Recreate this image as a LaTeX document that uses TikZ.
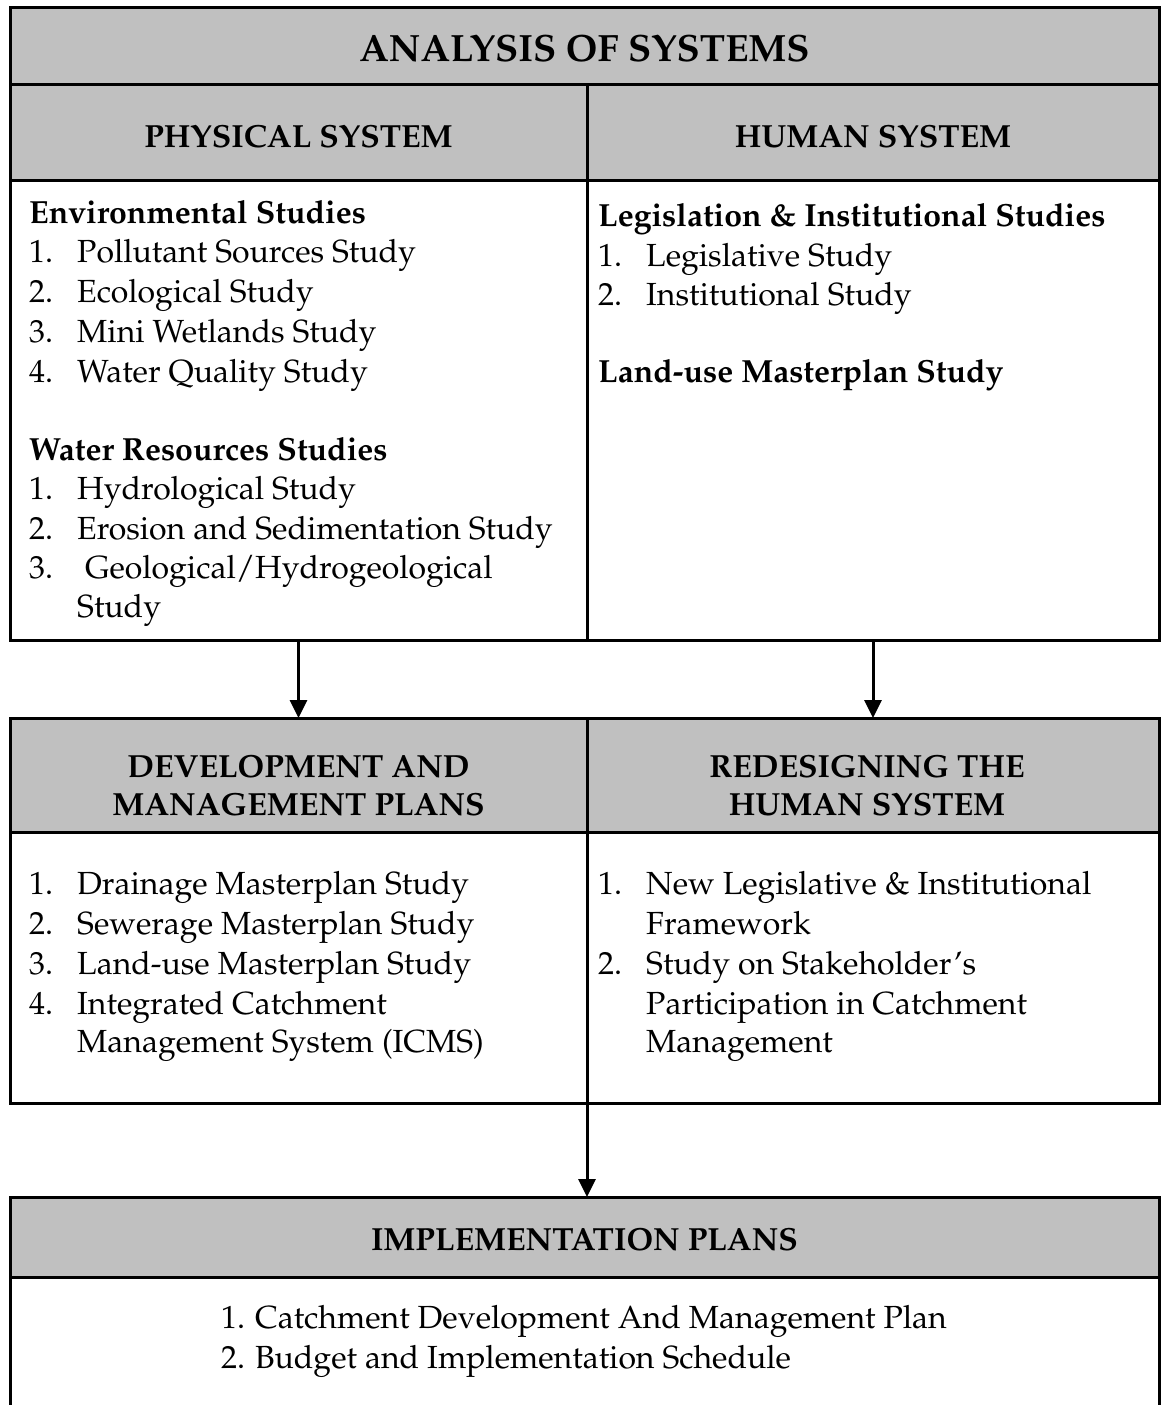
\documentclass[tikz,border=0pt]{standalone}
\usepackage[T1]{fontenc}
\renewcommand{\rmdefault}{ppl}
\usetikzlibrary{arrows.meta}
\definecolor{hdrgray}{RGB}{192,192,192}
\newcommand{\num}[1]{\makebox[48pt][l]{#1}}
\tikzset{
  cellbox/.style={draw=black, line width=3pt, rectangle, inner sep=0pt, outer sep=0pt, anchor=north west},
  hdrcell/.style={cellbox, fill=hdrgray},
  ttltext/.style={font=\fontsize{38}{44}\selectfont\bfseries, anchor=base, inner sep=0pt},
  hdtext/.style={font=\fontsize{32}{38}\selectfont\bfseries, anchor=base, inner sep=0pt},
  boldline/.style={font=\fontsize{32}{38}\selectfont\bfseries, anchor=base west, inner sep=0pt},
  plainline/.style={font=\fontsize{32}{38}\selectfont, anchor=base west, inner sep=0pt},
  arr/.style={line width=3pt, -{Triangle[length=18pt,width=17pt]}},
}
\begin{document}
\begin{tikzpicture}[x=1pt,y=-1pt]
\clip (0,0) rectangle (1161,1405);
\fill[white] (0,0) rectangle (1161,1405);
% cells
\node[hdrcell, minimum width=1149pt, minimum height=76pt] (title) at (10,8) {};
\node[hdrcell, minimum width=577pt, minimum height=96pt] (physh) at (10,84) {};
\node[hdrcell, minimum width=572pt, minimum height=96pt] (humh) at (587,84) {};
\node[cellbox, minimum width=577pt, minimum height=460pt] (physb) at (10,180) {};
\node[cellbox, minimum width=572pt, minimum height=460pt] (humb) at (587,180) {};
\node[hdrcell, minimum width=577pt, minimum height=114pt] (devh) at (10,718) {};
\node[hdrcell, minimum width=572pt, minimum height=114pt] (redh) at (587,718) {};
\node[cellbox, minimum width=577pt, minimum height=271pt] (devb) at (10,832) {};
\node[cellbox, minimum width=572pt, minimum height=271pt] (redb) at (587,832) {};
\node[hdrcell, minimum width=1149pt, minimum height=80pt] (implh) at (10,1197) {};
\node[cellbox, minimum width=1149pt, minimum height=220pt] (implb) at (10,1277) {};
% arrows
\draw[arr] (physb.south) -- (devh.north);
\draw[arr] (humb.south) -- (redh.north);
\draw[arr] (devb.south east) -- (devb.south east |- implh.north);
% header texts
\node[ttltext] (t0) at (584.5,62) {ANALYSIS OF SYSTEMS};
\node[hdtext] (t1) at (298.5,147) {PHYSICAL SYSTEM};
\node[hdtext] (t2) at (873,147) {HUMAN SYSTEM};
\node[hdtext] (t3) at (298.5,777) {DEVELOPMENT AND};
\node[hdtext] (t4) at (298.5,815) {MANAGEMENT PLANS};
\node[hdtext] (t5) at (867,777) {REDESIGNING THE};
\node[hdtext] (t6) at (867,815) {HUMAN SYSTEM};
\node[hdtext] (t7) at (584.5,1250) {IMPLEMENTATION PLANS};
% physical body
\node[boldline] (p0) at (29,223) {Environmental Studies};
\node[plainline] (p1) at (29,262) {\num{1.}Pollutant Sources Study};
\node[plainline] (p2) at (29,302) {\num{2.}Ecological Study};
\node[plainline] (p3) at (29,342) {\num{3.}Mini Wetlands Study};
\node[plainline] (p4) at (29,382) {\num{4.}Water Quality Study};
\node[boldline] (p5) at (29,460) {Water Resources Studies};
\node[plainline] (p6) at (29,499) {\num{1.}Hydrological Study};
\node[plainline] (p7) at (29,539) {\num{2.}Erosion and Sedimentation Study};
\node[plainline] (p8) at (29,578) {\num{3.}\hspace{8pt}Geological/Hydrogeological};
\node[plainline] (p9) at (29,617) {\num{}Study};
% human body
\node[boldline] (h0) at (598,226) {Legislation \& Institutional Studies};
\node[plainline] (h1) at (598,266) {\num{1.}Legislative Study};
\node[plainline] (h2) at (598,305) {\num{2.}Institutional Study};
\node[boldline] (h3) at (598,382) {Land-use Masterplan Study};
% development body
\node[plainline] (d1) at (29,894) {\num{1.}Drainage Masterplan Study};
\node[plainline] (d2) at (29,934) {\num{2.}Sewerage Masterplan Study};
\node[plainline] (d3) at (29,974) {\num{3.}Land-use Masterplan Study};
\node[plainline] (d4) at (29,1014) {\num{4.}Integrated Catchment};
\node[plainline] (d5) at (29,1052) {\num{}Management System (ICMS)};
% redesign body
\node[plainline] (r1) at (598,894) {\num{1.}New Legislative \& Institutional};
\node[plainline] (r2) at (598,934) {\num{}Framework};
\node[plainline] (r3) at (598,974) {\num{2.}Study on Stakeholder's};
\node[plainline] (r4) at (598,1014) {\num{}Participation in Catchment};
\node[plainline] (r5) at (598,1052) {\num{}Management};
% implementation body
\node[plainline] (i1) at (221,1328) {1. Catchment Development And Management Plan};
\node[plainline] (i2) at (221,1368) {2. Budget and Implementation Schedule};
\end{tikzpicture}
\end{document}
